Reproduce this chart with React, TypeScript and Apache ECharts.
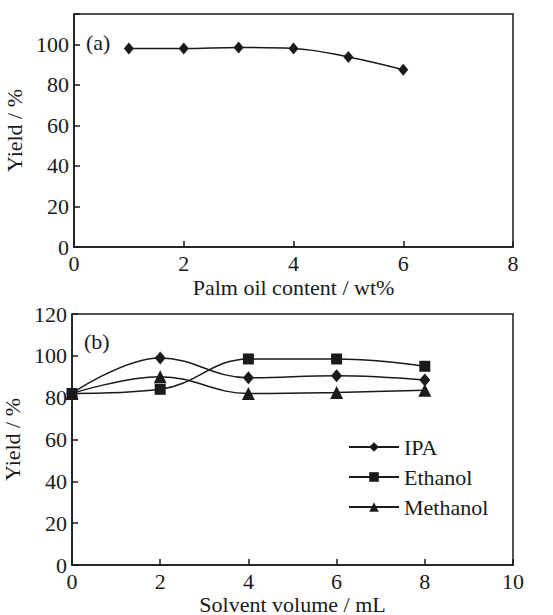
import React, { useEffect, useRef } from "react";
import * as echarts from "echarts";

const palmX = [1, 2, 3, 4, 5, 6];
const palmYield = [98, 98, 98.5, 98, 93.8, 87.5];

const solventX = [0, 2, 4, 6, 8];
const ipaYield = [82, 99, 89.5, 90.5, 88.5];
const ethanolYield = [82, 84, 98.5, 98.5, 95];
const methanolYield = [82, 90, 82, 82.5, 83.5];

const seriesNames = ["IPA", "Ethanol", "Methanol"];
const topYTicks = [0, 20, 40, 60, 80, 100];

const FONT = "serif";
const INK = "#1a1a1a";

const makeAxis = (extra: any) => ({
  axisLine: { show: true, lineStyle: { color: INK, width: 1.5 } },
  axisTick: { show: true, inside: true, length: 6, lineStyle: { color: INK, width: 1.5 } },
  splitLine: { show: false },
  axisLabel: { color: INK, fontFamily: FONT, fontSize: 22, margin: 5, ...(extra.labelExtra || {}) },
  nameTextStyle: { color: INK, fontFamily: FONT, fontSize: 22 },
  nameLocation: "middle",
  type: "value",
  ...extra.axis,
});

export default function App() {
  const ref = useRef<HTMLDivElement>(null);
  useEffect(() => {
    if (!ref.current) return;
    const chart = echarts.init(ref.current, undefined, { renderer: "svg" });
    const pair = (xs: number[], ys: number[]) => xs.map((x, i) => [x, ys[i]]);
    const line = (name: string, xi: number, symbol: string, symbolSize: any, data: number[][]) => ({
      type: "line",
      name,
      xAxisIndex: xi,
      yAxisIndex: xi,
      smooth: 0.4,
      symbol,
      symbolSize,
      lineStyle: { color: INK, width: 1.5 },
      itemStyle: { color: INK },
      data,
    });
    chart.setOption({
      animation: false,
      textStyle: { fontFamily: FONT, color: INK },
      grid: [
        { left: 74, right: 40, top: 14, height: 233, show: true, borderColor: INK, borderWidth: 1.5, outerBoundsMode: "none", containLabel: false },
        { left: 72, right: 40, top: 314, height: 251, show: true, borderColor: INK, borderWidth: 1.5, outerBoundsMode: "none", containLabel: false },
      ],
      xAxis: [
        makeAxis({ axis: { gridIndex: 0, min: 0, max: 8, interval: 2, name: "Palm oil content / wt%", nameGap: 29 } }),
        makeAxis({ axis: { gridIndex: 1, min: 0, max: 10, interval: 2, name: "Solvent volume / mL", nameGap: 28 } }),
      ],
      yAxis: [
        makeAxis({
          axis: { gridIndex: 0, min: 0, max: 115, interval: 20, name: "Yield / %", nameGap: 45 },
          labelExtra: { formatter: (v: number) => (topYTicks.includes(v) ? String(v) : "") },
        }),
        makeAxis({ axis: { gridIndex: 1, min: 0, max: 120, interval: 20, name: "Yield / %", nameGap: 42 } }),
      ],
      legend: {
        data: seriesNames,
        orient: "vertical",
        left: 343,
        top: 431,
        itemWidth: 50,
        itemHeight: 12,
        itemGap: 8,
        textStyle: { color: INK, fontFamily: FONT, fontSize: 22 },
      },
      graphic: [
        { type: "text", left: 86, top: 31, style: { text: "(a)", fontFamily: FONT, fontSize: 22, fill: INK } },
        { type: "text", left: 84, top: 330, style: { text: "(b)", fontFamily: FONT, fontSize: 22, fill: INK } },
      ],
      series: [
        line("Palm", 0, "diamond", [10, 12], pair(palmX, palmYield)),
        line("IPA", 1, "diamond", [11, 13], pair(solventX, ipaYield)),
        line("Ethanol", 1, "rect", 11, pair(solventX, ethanolYield)),
        line("Methanol", 1, "triangle", 13, pair(solventX, methanolYield)),
      ],
    });
    return () => chart.dispose();
  }, []);
  return <div ref={ref} style={{ width: 553, height: 615, position: "absolute", left: 0, top: 0 }} />;
}
